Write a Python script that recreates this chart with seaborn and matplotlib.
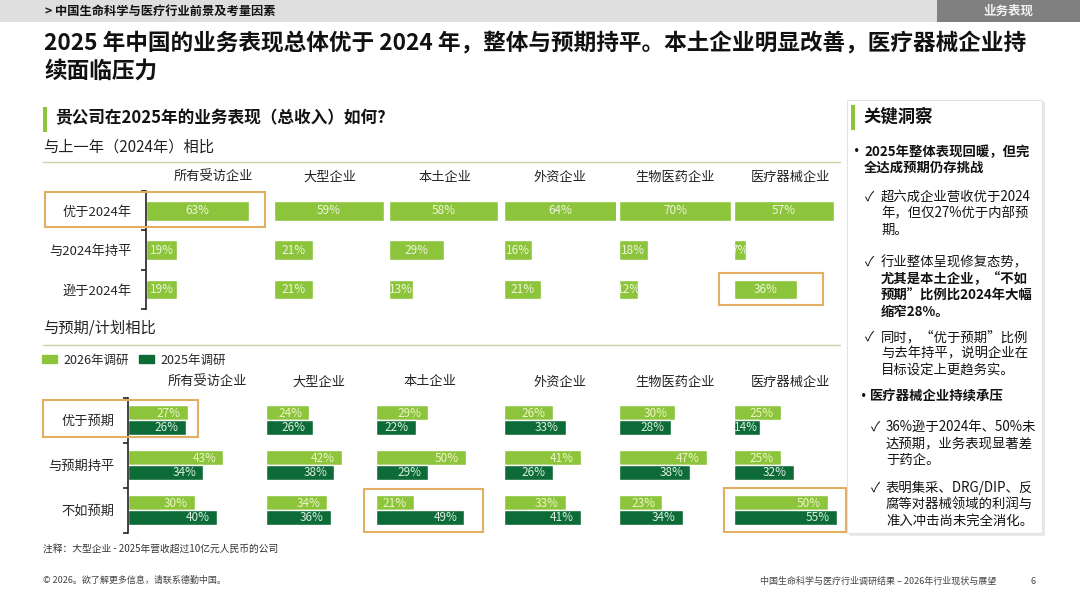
import pandas as pd
import matplotlib.pyplot as plt
import seaborn as sns
from matplotlib.patches import Rectangle, Patch
from matplotlib.lines import Line2D

# Data
groups = ['所有受访企业', '大型企业', '本土企业', '外资企业', '生物医药企业', '医疗器械企业']

rows_vs_2024 = ['优于2024年', '与2024年持平', '逊于2024年']
better_2024 = [63, 59, 58, 64, 70, 57]
same_2024 = [19, 21, 29, 16, 18, 7]
worse_2024 = [19, 21, 13, 21, 12, 36]

rows_vs_plan = ['优于预期', '与预期持平', '不如预期']
surveys = ['2026年调研', '2025年调研']
better_plan_2026 = [27, 24, 29, 26, 30, 25]
better_plan_2025 = [26, 26, 22, 33, 28, 14]
same_plan_2026 = [43, 42, 50, 41, 47, 25]
same_plan_2025 = [34, 38, 29, 26, 38, 32]
worse_plan_2026 = [30, 34, 21, 33, 23, 50]
worse_plan_2025 = [40, 36, 49, 41, 34, 55]

top = pd.DataFrame({
    'group': groups * 3,
    'row': [r for r in rows_vs_2024 for _ in groups],
    'value': better_2024 + same_2024 + worse_2024,
})
plan = pd.DataFrame({
    'group': groups * 6,
    'row': [r for r in rows_vs_plan for _ in range(12)],
    'survey': ([surveys[0]] * 6 + [surveys[1]] * 6) * 3,
    'value': (better_plan_2026 + better_plan_2025 + same_plan_2026 + same_plan_2025
              + worse_plan_2026 + worse_plan_2025),
})

sns.set_style('white')
plt.rcParams['font.family'] = ['Noto Sans CJK SC', 'DejaVu Sans']

LIGHT = '#8CC43C'
DARK = '#0C6B37'
BOX = '#E4AE62'
W, H = 1080, 608

fig = plt.figure(figsize=(10.8, 6.08), dpi=100)


def fx(x):
    return x / W


def fy(y):
    return 1 - y / H


def text(x, y, s, **kw):
    kw.setdefault('va', 'center')
    fig.text(fx(x), fy(y), s, **kw)


def rect(x0, y0, x1, y1, **kw):
    fig.add_artist(Rectangle((fx(x0), fy(y1)), (x1 - x0) / W, (y1 - y0) / H,
                             transform=fig.transFigure, **kw))


def hline(x0, x1, y, **kw):
    fig.add_artist(Line2D([fx(x0), fx(x1)], [fy(y), fy(y)], transform=fig.transFigure, **kw))


def style_axes(ax, first, xmax, labels, pad):
    ax.set_xlim(0, xmax)
    ax.set_ylim(2.5, -0.5)
    ax.set_xticks([])
    ax.set_xlabel('')
    ax.set_ylabel('')
    for side in ['top', 'right', 'bottom']:
        ax.spines[side].set_visible(False)
    if first:
        ax.spines['left'].set_color('#222222')
        ax.spines['left'].set_linewidth(1.2)
        ax.set_yticks([-0.5, 0.5, 1.5, 2.5], labels=['', '', '', ''])
        ax.tick_params(axis='y', which='major', length=3.5, width=1.2, color='#222222', left=True)
        ax.set_yticks([0, 1, 2], labels=labels, minor=True)
        ax.tick_params(axis='y', which='minor', length=0, pad=pad, labelsize=9.5)
    else:
        ax.spines['left'].set_visible(False)
        ax.set_yticks([])
    ax.patch.set_alpha(0)


# header band
rect(0, 0, 1080, 22, facecolor='#DEDEDE', edgecolor='none')
rect(937, 0, 1080, 22, facecolor='#808080', edgecolor='none')
text(45, 11, '> 中国生命科学与医疗行业前景及考量因素', fontsize=8.8, weight='bold', color='#111111')
text(1008, 11, '业务表现', fontsize=9, weight='bold', color='#F2F2F2', ha='center')

# title
text(44, 44, '2025 年中国的业务表现总体优于 2024 年，整体与预期持平。本土企业明显改善，医疗器械企业持',
     fontsize=16.3, weight='bold', color='#111111')
text(44, 71, '续面临压力', fontsize=16.3, weight='bold', color='#111111')

# question
rect(43, 107, 46.5, 132, facecolor=LIGHT, edgecolor='none')
text(55, 118, '贵公司在2025年的业务表现（总收入）如何?', fontsize=12, weight='bold', color='#111111')
text(43, 147, '与上一年（2024年）相比', fontsize=11, color='#222222')
hline(43, 840, 162, color='#CBD3A6', lw=1)
text(43, 328, '与预期/计划相比', fontsize=11, color='#222222')
hline(43, 840, 345, color='#CBD3A6', lw=1)

# vs 2024 panels
top_starts = [146, 274, 389, 504, 619, 734]
top_scale = [1.63, 1.86, 1.88, 1.77, 1.6, 1.75]
top_heads = [213, 330, 445, 560, 675, 790]
for i, g in enumerate(groups):
    ax = fig.add_axes([fx(top_starts[i]), fy(309), 112 / W, 118 / H])
    sub = top[top['group'] == g]
    sns.barplot(data=sub, x='value', y='row', order=rows_vs_2024, color=LIGHT,
                saturation=1, width=0.5, ax=ax, errorbar=None)
    style_axes(ax, i == 0, 112 / top_scale[i], rows_vs_2024, 10)
    for c in ax.containers:
        ax.bar_label(c, labels=[f'{v:.0f}%' for v in c.datavalues], label_type='center',
                     fontsize=8.5, color='#EEF6DC')
    text(top_heads[i], 177, g, fontsize=9.5, ha='center', color='#222222')

# vs plan panels
bot_starts = [128, 266, 376, 504, 619, 734]
bot_scale = [2.22, 1.8, 1.8, 1.87, 1.87, 1.87]
bot_heads = [207, 319, 430, 560, 675, 790]
for i, g in enumerate(groups):
    ax = fig.add_axes([fx(bot_starts[i]), fy(532.5), 112 / W, 135 / H])
    sub = plan[plan['group'] == g]
    sns.barplot(data=sub, x='value', y='row', hue='survey', order=rows_vs_plan,
                hue_order=surveys, palette=[LIGHT, DARK], saturation=1, width=0.65,
                ax=ax, errorbar=None, legend=False)
    style_axes(ax, i == 0, 112 / bot_scale[i], rows_vs_plan, 9.5)
    for c, col in zip(ax.containers, ['#EEF5C8', '#DDF0E0']):
        for bar, v in zip(c, c.datavalues):
            bar_px = v * bot_scale[i]
            pad = min(7, bar_px - 24)
            ax.annotate(f'{v:.0f}%', (bar.get_width(), bar.get_y() + bar.get_height() / 2),
                        xytext=(-pad, -0.5), textcoords='offset pixels', ha='right',
                        va='center', fontsize=8.5, color=col, annotation_clip=False)
    text(bot_heads[i], 382, g, fontsize=9.5, ha='center', color='#222222')

fig.legend(handles=[Patch(color=LIGHT), Patch(color=DARK)], labels=surveys,
           loc='center left', bbox_to_anchor=(fx(42), fy(360)), ncol=2, frameon=False,
           fontsize=9, handlelength=1.2, handleheight=0.6, handletextpad=0.5,
           columnspacing=0.8, borderpad=0, borderaxespad=0)

# highlight boxes
for x0, y0, x1, y1 in [(45, 192, 265, 227), (719, 273, 823, 305),
                       (43, 400, 198, 437), (364, 489, 483, 532), (724, 488, 846, 532)]:
    rect(x0, y0, x1, y1, facecolor='none', edgecolor=BOX, lw=1.5, zorder=5)

# key insights panel
rect(849, 102, 1045, 536, facecolor='#E9E9E9', edgecolor='none', zorder=6)
rect(847, 100, 1042, 533, facecolor='white', edgecolor='#E2E2E2', lw=0.8, zorder=7)
rect(851, 105, 855, 130, facecolor=LIGHT, edgecolor='none', zorder=8)
text(863, 117, '关键洞察', fontsize=12.5, weight='bold', color='#111111', zorder=8)

insight_lines = [
    (850, 152, '•', 'bold'), (864, 152, '2025年整体表现回暖，但完', 'bold'),
    (864, 168, '全达成预期仍存挑战', 'bold'),
    (865, 197, '✓', 'normal'), (881, 197, '超六成企业营收优于2024', 'normal'),
    (881, 213, '年，但仅27%优于内部预', 'normal'), (881, 230, '期。', 'normal'),
    (865, 262, '✓', 'normal'), (881, 262, '行业整体呈现修复态势，', 'normal'),
    (881, 279, '尤其是本土企业，“不如', 'bold'), (881, 295, '预期”比例比2024年大幅', 'bold'),
    (881, 312, '缩窄28%。', 'bold'),
    (865, 337, '✓', 'normal'), (881, 337, '同时，“优于预期”比例', 'normal'),
    (881, 353, '与去年持平，说明企业在', 'normal'), (881, 370, '目标设定上更趋务实。', 'normal'),
    (857, 397, '•', 'bold'), (870, 397, '医疗器械企业持续承压', 'bold'),
    (871, 427, '✓', 'normal'), (886, 427, '36%逊于2024年、50%未', 'normal'),
    (886, 443, '达预期，业务表现显著差', 'normal'), (886, 460, '于药企。', 'normal'),
    (871, 488, '✓', 'normal'), (886, 488, '表明集采、DRG/DIP、反', 'normal'),
    (886, 505, '腐等对器械领域的利润与', 'normal'), (886, 521, '准入冲击尚未完全消化。', 'normal'),
]
for x, y, s, wt in insight_lines:
    text(x, y, s, fontsize=9.6, weight=wt, color='#111111', zorder=8)

# notes and footer
text(43, 549, '注释：大型企业 - 2025年营收超过10亿元人民币的公司', fontsize=7, color='#333333')
text(43, 580, '© 2026。欲了解更多信息，请联系德勤中国。', fontsize=6.5, color='#444444')
text(996, 581, '中国生命科学与医疗行业调研结果 – 2026年行业现状与展望', fontsize=6.5,
     color='#444444', ha='right')
text(1033, 581, '6', fontsize=6.5, color='#444444', ha='center')

fig.savefig('out.png', dpi=100)
